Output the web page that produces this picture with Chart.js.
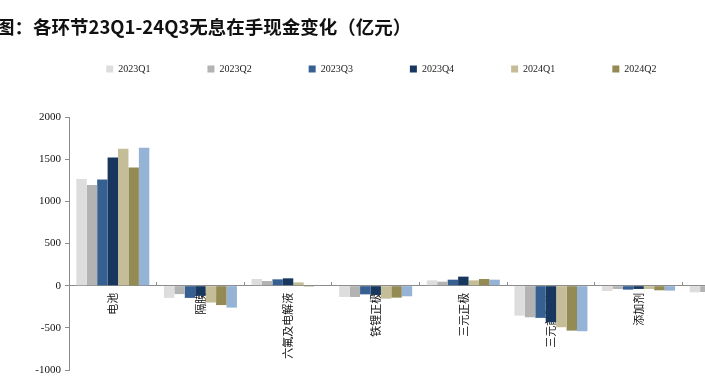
<!DOCTYPE html>
<html>
<head>
<meta charset="utf-8">
<script src="https://cdn.jsdelivr.net/npm/chart.js@4.4.0/dist/chart.umd.min.js"></script>
<style>
  html, body { margin: 0; padding: 0; background: #fff; overflow: hidden; }
  .wrap { position: relative; width: 705px; height: 389px; overflow: hidden; }
  .title { position: absolute; left: -4px; top: 13px; z-index: 2; white-space: nowrap;
           font: bold 18.5px "Noto Sans CJK SC", sans-serif; color: #111; }
  .box { position: absolute; left: 0; top: 0; width: 864px; height: 389px; }
</style>
</head>
<body>
<div class="wrap">
  <div class="title">图：各环节23Q1-24Q3无息在手现金变化（亿元）</div>
  <div class="box"><canvas id="cashChart"></canvas></div>
</div>
<script>
// 各环节无息在手现金（亿元），最后一个环节在原图右侧被裁掉
const categories = ['电池', '隔膜', '六氟及电解液', '铁锂正极', '三元正极', '三元前驱体', '添加剂', '负极']
const quarters = ['2023Q1', '2023Q2', '2023Q3', '2023Q4', '2024Q1', '2024Q2', '2024Q3']

const cash23Q1 = [1265, -145, 79, -134, 63, -355, -63, -79]
const cash23Q2 = [1195, -100, 55, -134, 47, -375, -39, -75]
const cash23Q3 = [1260, -145, 75, -103, 71, -382, -47, null]
const cash23Q4 = [1520, -120, 87, -110, 107, -434, -39, null]
const cash24Q1 = [1625, -200, 39, -154, 63, -493, -39, null]
const cash24Q2 = [1400, -230, -10, -142, 79, -533, -55, null]
const cash24Q3 = [1635, -260, 0, -126, 71, -540, -59, null]

const yTicks = [-1000, -500, 0, 500, 1000, 1500, 2000]

const series = [cash23Q1, cash23Q2, cash23Q3, cash23Q4, cash24Q1, cash24Q2, cash24Q3]
const colors = ['#DDDDDD', '#B3B3B3', '#366092', '#17375E', '#C4BD97', '#948A54', '#95B3D7']

// push the plot area down below the legend
const legendGap = {
    id: 'legendGap',
    beforeInit(chart) {
        const fit = chart.legend.fit
        chart.legend.fit = function () {
            fit.call(this)
            this.height += 33
        }
    }
}

new Chart(document.getElementById('cashChart'), {
    type: 'bar',
    data: {
        labels: categories,
        datasets: quarters.map((q, i) => ({
            label: q,
            data: series[i],
            backgroundColor: colors[i],
            categoryPercentage: 0.833,
            barPercentage: 1
        }))
    },
    options: {
        responsive: true,
        maintainAspectRatio: false,
        animation: false,
        layout: { padding: { top: 7, bottom: 19 } },
        plugins: {
            legend: {
                display: true,
                position: 'top',
                labels: {
                    boxWidth: 7,
                    boxHeight: 7,
                    padding: 57,
                    color: '#222',
                    font: { family: 'Liberation Serif', size: 10 }
                }
            },
            tooltip: { enabled: false }
        },
        scales: {
            x: {
                position: { y: 0 },
                grid: { offset: true, drawOnChartArea: false, tickLength: -4, color: '#8c8c8c' },
                border: { color: '#8c8c8c' },
                ticks: {
                    autoSkip: false,
                    minRotation: 90,
                    maxRotation: 90,
                    padding: 11,
                    color: '#111',
                    font: { family: 'Noto Sans CJK SC', size: 11 }
                }
            },
            y: {
                min: -1000,
                max: 2000,
                afterBuildTicks: s => { s.ticks = yTicks.map(v => ({ value: v })) },
                afterFit: s => { s.width = 69 },
                grid: { drawOnChartArea: false, tickLength: 4, color: '#8c8c8c' },
                border: { color: '#8c8c8c' },
                ticks: {
                    padding: 4,
                    color: '#111',
                    font: { family: 'Liberation Serif', size: 11 },
                    callback: v => String(v)
                }
            },
            yPad: {
                position: 'right',
                display: true,
                grid: { display: false },
                border: { display: false },
                ticks: { display: false },
                afterFit: s => { s.width = 94 }
            }
        }
    },
    plugins: [legendGap]
})
</script>
</body>
</html>
